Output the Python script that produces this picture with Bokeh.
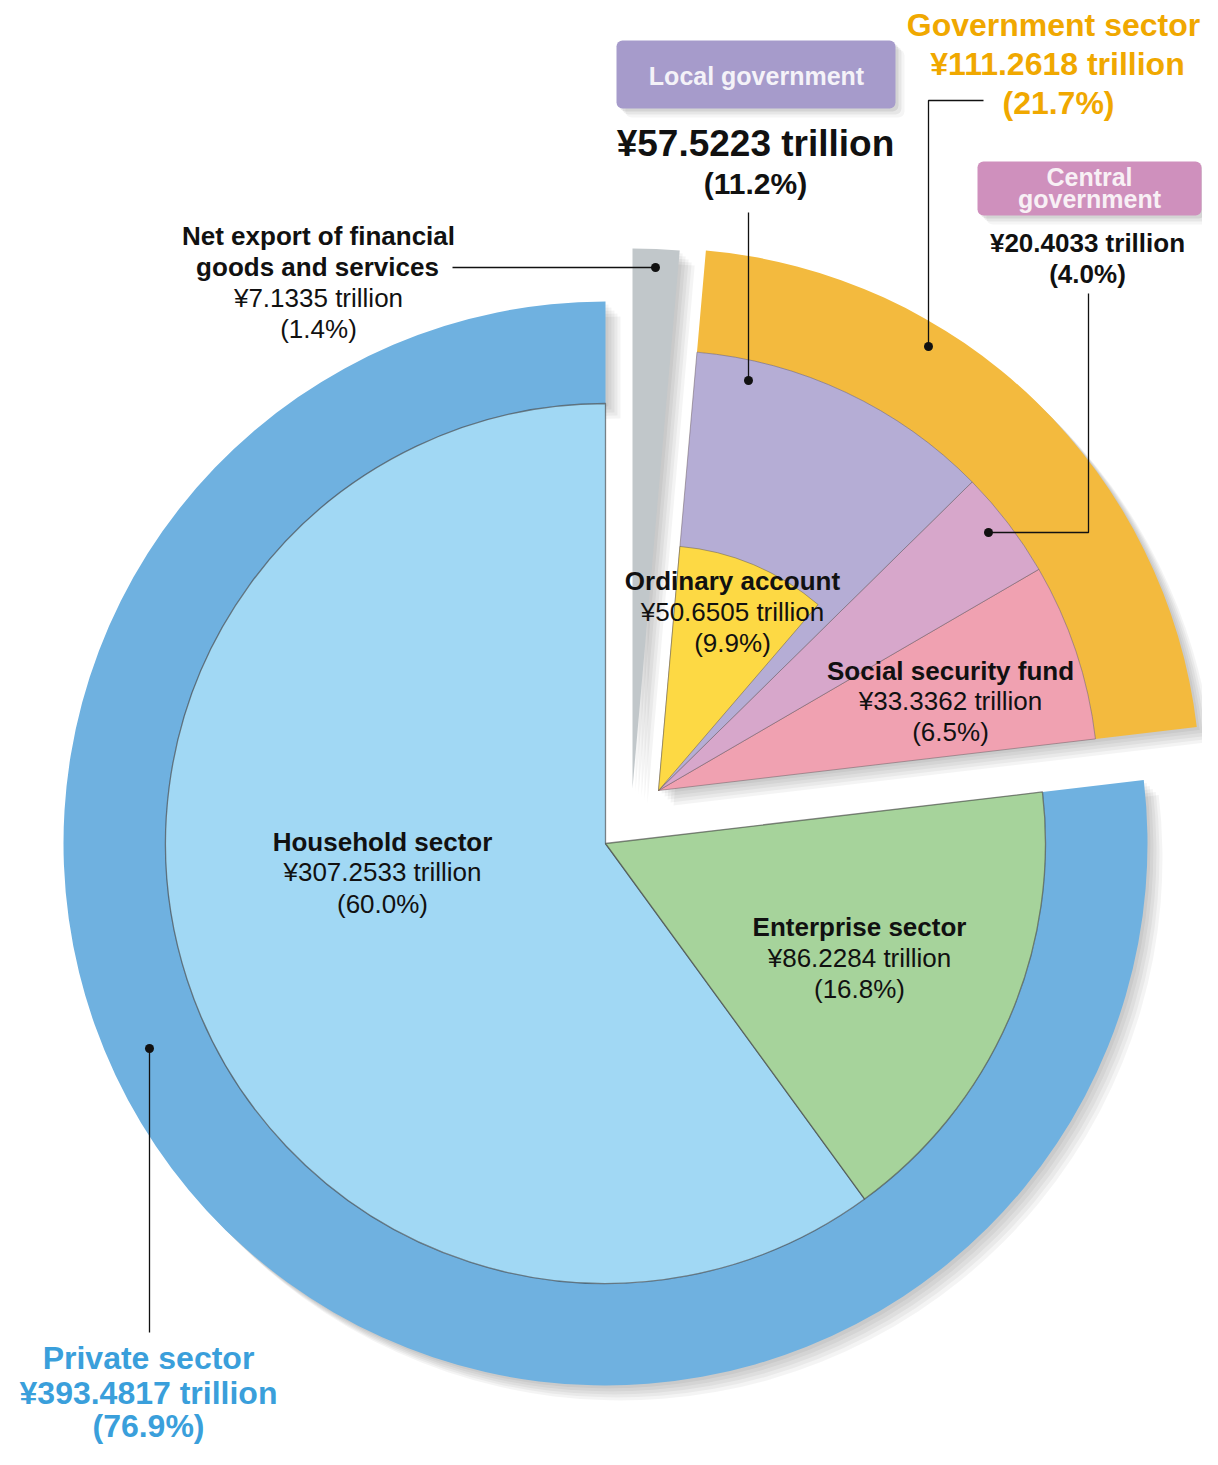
import numpy as np
from bokeh.plotting import figure
from bokeh.models import Range1d, BoxAnnotation
from bokeh.core.properties import value
from bokeh.embed import file_html
from bokeh.resources import INLINE

# ---------------- data ----------------
top_names = ["Private sector", "Government sector", "Net export of financial goods and services"]
top_values = [393.4817, 111.2618, 7.1335]
top_pcts = ["76.9%", "21.7%", "1.4%"]

private_names = ["Household sector", "Enterprise sector"]
private_values = [307.2533, 86.2284]
private_pcts = ["60.0%", "16.8%"]

gov_names = ["Social security fund", "Central government", "Local government"]
gov_values = [33.3362, 20.4033, 57.5223]
gov_pcts = ["6.5%", "4.0%", "11.2%"]

ordinary_name = "Ordinary account"
ordinary_value = 50.6505
ordinary_pct = "9.9%"

FONT = value("Liberation Sans")
H = 1465


def Y(py):
    return H - py


total = sum(top_values)
deg = lambda v: 360.0 * v / total
r = np.radians

p = figure(width=1202, height=1449, output_backend="svg", toolbar_location=None,
           x_range=Range1d(0, 1202), y_range=Range1d(16, 1465), min_border=0,
           x_axis_type=None, y_axis_type=None)
p.grid.visible = False
p.outline_line_color = None
p.background_fill_color = "white"
p.border_fill_color = "white"

# geometry (layout)
cx, cy = 605, Y(843)          # main pie centre
gx, gy = 658, Y(790)          # exploded government centre
nx, ny = 632, Y(788)          # exploded net-export centre
R_OUT, R_IN, R_ORD = 542, 440, 245

# angles
a_private_start = 90.0
a_private_end = a_private_start + deg(top_values[0])
a_gov_start = a_private_end - 360.0
a_gov_end = a_gov_start + deg(top_values[1])
a_net_start = a_gov_end
a_net_end = a_net_start + deg(top_values[2])

# ---------- soft shadows ----------
for off in [3, 6, 9, 12, 15]:
    a = 0.045
    p.annular_wedge(cx + off, cy - off, R_IN, R_OUT, r(a_private_start), r(a_private_end),
                    fill_color="black", fill_alpha=a, line_color=None)
    p.wedge(gx + off, gy - off, R_OUT, r(a_gov_start), r(a_gov_end),
            fill_color="black", fill_alpha=a, line_color=None)
    p.wedge(nx + off, ny - off, R_OUT - 2, r(a_net_start), r(a_net_end),
            fill_color="black", fill_alpha=a, line_color=None)

# ---------- private sector ----------
p.annular_wedge(cx, cy, R_IN, R_OUT, r(a_private_start), r(a_private_end),
                fill_color="#6FB1E0", line_color=None)
pcols = ["#A1D8F4", "#A6D39B"]
s = a_private_start
for v, c in zip(private_values, pcols):
    e = s + deg(v)
    p.wedge(cx, cy, R_IN, r(s), r(e), fill_color=c, line_color="#3a3a3a",
            line_alpha=0.6, line_width=1.3)
    s = e

# ---------- government sector ----------
p.annular_wedge(gx, gy, R_IN, R_OUT, r(a_gov_start), r(a_gov_end),
                fill_color="#F3BA3E", line_color=None)
gcols = ["#F0A1B1", "#D7A7CB", "#B5ADD5"]
s = a_gov_start
for v, c in zip(gov_values, gcols):
    e = s + deg(v)
    p.wedge(gx, gy, R_IN, r(s), r(e), fill_color=c, line_color="#6a5a60",
            line_alpha=0.5, line_width=1)
    s = e
a_ord_start = a_gov_end - deg(ordinary_value)
p.wedge(gx, gy, R_ORD, r(a_ord_start), r(a_gov_end), fill_color="#FDD944",
        line_color="#6a6040", line_alpha=0.5, line_width=1)

# ---------- net export ----------
p.wedge(nx, ny, R_OUT - 2, r(a_net_start), r(a_net_end), fill_color="#C1C7CA", line_color=None)

# ---------- leader lines ----------
LC = "#111111"
p.line([452, 655], [Y(267), Y(267)], line_color=LC, line_width=1.3)
p.line([928, 928, 983], [Y(346), Y(100), Y(100)], line_color=LC, line_width=1.3)
p.line([988, 1088, 1088], [Y(532), Y(532), Y(293)], line_color=LC, line_width=1.3)
p.line([748, 748], [Y(380), Y(212)], line_color=LC, line_width=1.3)
p.line([149, 149], [Y(1048), Y(1332)], line_color=LC, line_width=1.3)
p.scatter([655, 928, 988, 748, 149], [Y(267), Y(346), Y(532), Y(380), Y(1048)],
          size=9, fill_color=LC, line_color=None)

# ---------- label boxes ----------
for (l, t, rr, b, col) in [(616, 40, 895, 108, "#A69BCB"), (977, 161, 1201, 215, "#CF90BD")]:
    for off, a in [(3, 0.08), (6, 0.06), (9, 0.04)]:
        p.add_layout(BoxAnnotation(left=l + off, right=rr + off, top=Y(t + off), bottom=Y(b + off),
                                   fill_color="black", fill_alpha=a, line_color=None,
                                   border_radius=6, level="underlay"))
    p.add_layout(BoxAnnotation(left=l, right=rr, top=Y(t), bottom=Y(b),
                               fill_color=col, fill_alpha=1, line_color=None, border_radius=6,
                               level="underlay"))


# ---------- text ----------
def txt(x, py, s, size, bold=False, color="#111111"):
    p.text([x], [Y(py)], text=[s], text_align="center", text_baseline="middle",
           text_font=FONT, text_font_size=f"{size}px",
           text_font_style="bold" if bold else "normal", text_color=color)


ORANGE = "#F0A800"
BLUE = "#3A9FDB"
FS = 26

txt(1053, 24, "Government sector", 32, True, ORANGE)
txt(1057, 63, f"¥{top_values[1]:.4f} trillion", 32, True, ORANGE)
txt(1058, 102, f"({top_pcts[1]})", 32, True, ORANGE)

txt(756, 75, gov_names[2], 25, True, "#F4F2F8")
txt(755, 143, f"¥{gov_values[2]:.4f} trillion", 37, True)
txt(755, 183, f"({gov_pcts[2]})", 30, True)

txt(1089, 176, "Central", 25, True, "#F8F0F5")
txt(1089, 198, "government", 25, True, "#F8F0F5")
txt(1087, 242, f"¥{gov_values[1]:.4f} trillion", FS, True)
txt(1087, 273, f"({gov_pcts[1]})", FS, True)

txt(318, 235, "Net export of financial", FS, True)
txt(317, 266, "goods and services", FS, True)
txt(318, 297, f"¥{top_values[2]:.4f} trillion", FS)
txt(318, 328, f"({top_pcts[2]})", FS)

txt(732, 580, ordinary_name, FS, True)
txt(732, 611, f"¥{ordinary_value:.4f} trillion", FS)
txt(732, 642, f"({ordinary_pct})", FS)

txt(950, 670, gov_names[0], FS, True)
txt(950, 700, f"¥{gov_values[0]:.4f} trillion", FS)
txt(950, 731, f"({gov_pcts[0]})", FS)

txt(382, 841, private_names[0], FS, True)
txt(382, 871, f"¥{private_values[0]:.4f} trillion", FS)
txt(382, 903, f"({private_pcts[0]})", FS)

txt(859, 926, private_names[1], FS, True)
txt(859, 957, f"¥{private_values[1]:.4f} trillion", FS)
txt(859, 988, f"({private_pcts[1]})", FS)

txt(148, 1357, top_names[0], 32, True, BLUE)
txt(148, 1392, f"¥{top_values[0]:.4f} trillion", 32, True, BLUE)
txt(148, 1425, f"({top_pcts[0]})", 32, True, BLUE)

open("out.html", "w").write(file_html(p, INLINE))
